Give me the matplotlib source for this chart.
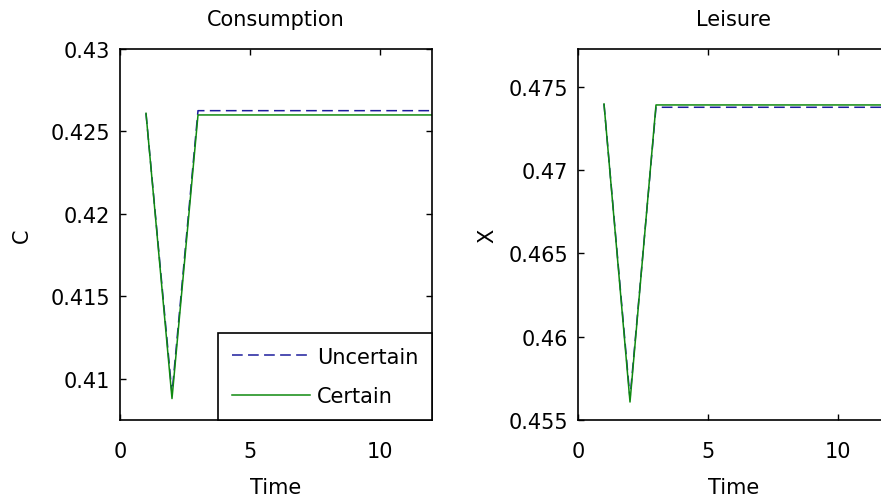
import matplotlib
matplotlib.use('Agg')
import matplotlib.pyplot as plt
from matplotlib.ticker import FuncFormatter

plt.rcParams['font.family'] = ['DejaVu Sans']

# --- data ---
time = [1, 2, 3, 4, 5, 6, 7, 8, 9, 10, 11, 12]

cons_uncertain = [0.4261, 0.4091, 0.42626, 0.42626, 0.42626, 0.42626,
                  0.42626, 0.42626, 0.42626, 0.42626, 0.42626, 0.42626]
cons_certain = [0.4261, 0.4088, 0.4260, 0.4260, 0.4260, 0.4260,
                0.4260, 0.4260, 0.4260, 0.4260, 0.4260, 0.4260]

leis_uncertain = [0.47398, 0.4563, 0.47378, 0.47378, 0.47378, 0.47378,
                  0.47378, 0.47378, 0.47378, 0.47378, 0.47378, 0.47378]
leis_certain = [0.47398, 0.45608, 0.47392, 0.47392, 0.47392, 0.47392,
                0.47392, 0.47392, 0.47392, 0.47392, 0.47392, 0.47392]

cons_yticks = [0.41, 0.415, 0.42, 0.425, 0.43]
leis_yticks = [0.455, 0.46, 0.465, 0.47, 0.475]
xticks = [0, 5, 10]

BLUE = '#1c1c9c'
GREEN = '#108a10'
FS = 15

W, H = 881, 502
fig = plt.figure(figsize=(W / 100, H / 100), dpi=100)

# right panel runs past the image edge, as in the reference
ax1 = fig.add_axes([120 / W, 1 - 421 / H, 312 / W, 371 / H])
ax2 = fig.add_axes([578 / W, 1 - 421 / H, 312 / W, 371 / H])


def style(ax, title, ylab, ylim, yticks, ylab_x):
    ax.set_xlim(0, 12)
    ax.set_ylim(*ylim)
    ax.set_xticks(xticks)
    ax.set_yticks(yticks)
    ax.yaxis.set_major_formatter(FuncFormatter(lambda v, p: '%g' % round(v, 4)))
    ax.tick_params(direction='in', top=True, right=True, length=4,
                   width=1, labelsize=FS, colors='black')
    ax.tick_params(axis='x', pad=15)
    ax.tick_params(axis='y', pad=7)
    for s in ax.spines.values():
        s.set_linewidth(1.2)
        s.set_color('black')
    ax.set_title(title, fontsize=FS, pad=17)
    ax.set_xlabel('Time', fontsize=FS, labelpad=12)
    ax.set_ylabel(ylab, fontsize=FS)
    ax.yaxis.set_label_coords(ylab_x, 0.5)


ax1.plot(time, cons_uncertain, color=BLUE, lw=1.1, linestyle=(0, (7, 3.5)),
         label='Uncertain')
ax1.plot(time, cons_certain, color=GREEN, lw=1.1, label='Certain')
style(ax1, 'Consumption', 'C', (0.4075, 0.43), cons_yticks, -0.282)

leg = ax1.legend(loc='lower right', borderaxespad=0, fontsize=FS,
                 fancybox=False, framealpha=1, edgecolor='black',
                 handlelength=3.75, labelspacing=0.95, borderpad=0.65,
                 handletextpad=0.35)
leg.get_frame().set_linewidth(1.2)

ax2.plot(time, leis_uncertain, color=BLUE, lw=1.1, linestyle=(0, (7, 3.5)))
ax2.plot(time, leis_certain, color=GREEN, lw=1.1)
style(ax2, 'Leisure', 'X', (0.455, 0.47728), leis_yticks, -0.26)

fig.savefig('out.png', dpi=100)
